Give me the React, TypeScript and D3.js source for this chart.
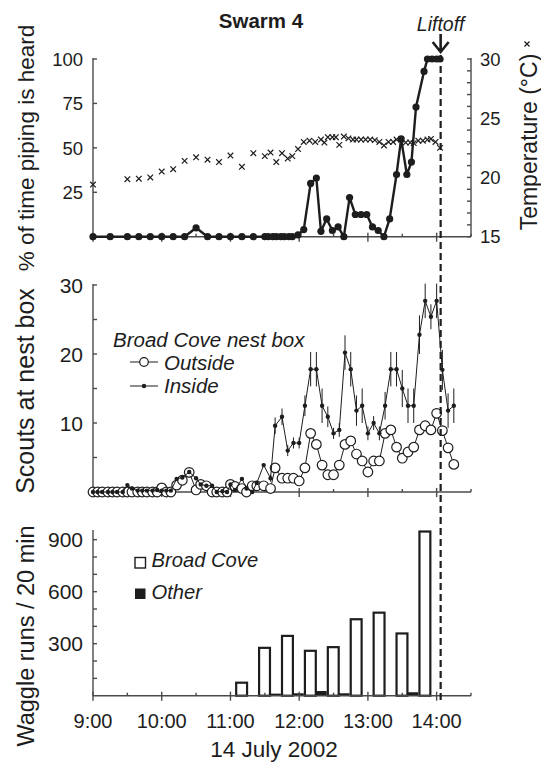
import React, { useEffect, useRef } from 'react';
import * as d3 from 'd3';

// all times are minutes after 9:00
const hourTicks = [0, 60, 120, 180, 240, 300];
const hourLabels = ['9:00', '10:00', '11:00', '12:00', '13:00', '14:00'];
const halfHourTicks = [30, 90, 150, 210, 270];
const liftoffMin = 303.5;

// top panel: piping
const pipingTimes = [0, 15, 30, 40, 50, 60, 70, 80, 90, 100, 110, 120, 130, 140, 150, 153, 157, 160, 164, 167,
  171, 174, 179, 184, 190, 195, 199, 204, 209, 214, 219, 224, 229, 234, 239, 244, 249, 254, 259, 265,
  269, 274, 278, 282, 289, 292, 296, 300, 303];
const pipingValues = [0, 0, 0, 0, 0, 0, 0, 0, 5, 0, 0, 0, 0, 0, 0, 0, 0, 0, 0, 0,
  0, 0, 1, 4, 30, 33, 3, 10, 3.5, 5.5, 0, 22, 12.5, 12.5, 12.5, 5.5, 3.5, 0, 10, 35,
  55, 35, 42, 73, 93, 100, 100, 100, 100];

// top panel: temperature (x markers)
const tempTimes = [0, 30, 40, 50, 60, 70, 80, 90, 100, 110, 120, 130, 140, 150, 155, 160, 165, 170, 174, 179,
  184, 189, 194, 199, 202, 205, 209, 212, 215, 219, 223, 227, 230, 234, 238, 242, 246, 250, 254, 258,
  262, 265, 269, 273, 277, 280, 284, 288, 292, 295, 299, 303];
const tempValues = [19.4, 19.85, 19.9, 20.0, 20.5, 20.7, 21.4, 21.7, 21.5, 21.3, 21.85, 20.9, 22.05, 21.8, 22.1, 21.3, 22.05, 21.6, 21.8, 22.4,
  23.0, 23.1, 23.0, 23.2, 22.95, 23.4, 23.4, 23.4, 22.75, 23.45, 23.3, 23.2, 23.2, 23.2, 23.2, 23.2, 23.15, 23.0, 22.7, 23.0,
  23.0, 23.2, 23.2, 22.95, 22.95, 22.9, 23.1, 23.1, 23.2, 23.25, 23.0, 22.5];

// middle panel: scouts
const scoutTimes = [0, 4, 8, 13, 17, 21, 26, 30, 34, 39, 43, 47, 52, 56, 60, 64, 68, 73, 78, 84,
  90, 94, 99, 104, 108, 113, 117, 120, 124, 130, 134, 139, 143, 149, 155, 159, 165, 170, 175, 180,
  185, 190, 195, 200, 205, 210, 215, 220, 225, 230, 235, 240, 245, 250, 255, 260, 265, 270, 275, 280,
  285, 290, 295, 300, 305, 310, 315];
const outsideValues = [0, 0, 0, 0, 0, 0, 0, 0, 0, 0, 0, 0, 0, 0, 0.6, 0, 0, 1.0, 1.7, 2.85,
  0.3, 1.1, 0.9, 0, 0, 0, 0, 1.1, 0.8, 0.5, 0, 0.9, 0.9, 0.9, 0.5, 3.5, 2.0, 2.0, 2.0, 1.6,
  3.5, 8.5, 6.9, 3.9, 2.5, 2.5, 3.9, 6.9, 7.4, 5.5, 4.5, 2.9, 4.5, 4.5, 8.5, 9.0, 6.5, 4.9, 5.8, 6.5,
  9.0, 9.6, 9.0, 11.4, 8.9, 6.4, 4.0];
const insideValues = [0, 0, 0, 0, 0, 0, 0, 1.0, 0.5, 0.2, 0.2, 0.2, 0.2, 0.3, 0.2, 0.2, 0.2, 1.9, 2.1, 2.9,
  2.0, 1.1, 0.9, 0.9, 0, 0.1, 0, 1.1, 0.3, 1.9, 0.5, 0, 1.3, 3.9, 2.0, 9.6, 10.9, 6.0, 7.1, 7.1,
  12.5, 17.8, 17.8, 12.5, 10.9, 8.5, 9.0, 20.2, 17.8, 11.8, 12.5, 8.5, 10.0, 8.5, 12.5, 17.8, 17.8, 15.0, 12.5, 12.5,
  22.8, 27.7, 25.4, 27.7, 17.7, 11.8, 12.5];
const insideErr = [0, 0, 0, 0, 0, 0, 0, 0, 0, 0, 0, 0, 0, 0, 0, 0, 0, 0, 0, 0,
  0, 0, 0, 0, 0, 0, 0, 0, 0, 0, 0, 0, 0, 0, 0.5, 1.2, 1.2, 0.8, 0.8, 0.8,
  1.5, 2.5, 2.5, 2.5, 1.5, 0.8, 1.0, 2.5, 2.5, 2.2, 2.5, 1.0, 1.0, 1.0, 2.0, 2.5, 2.5, 2.7, 2.5, 2.5,
  2.8, 2.5, 1.8, 2.5, 2.9, 2.5, 2.5];

// bottom panel: waggle runs per 20-min block (block start)
const blockStarts = [120, 140, 160, 180, 200, 220, 240, 260, 280];
const broadCoveRuns = [75, 276, 345, 259, 280, 441, 479, 359, 947];
const otherRuns = [0, 12, 14, 27, 14, 0, 0, 20, 0];

const FONT = '"Liberation Sans", Arial, Helvetica, sans-serif';
const INK = '#1d1d1d';
const AXIS = '#4a4a4a';

const App: React.FC = () => {
  const svgRef = useRef<SVGSVGElement>(null);

  useEffect(() => {
    const svg = d3.select(svgRef.current);
    svg.selectAll('*').remove();

    const x = d3.scaleLinear().domain([0, 330]).range([93, 471]);

    const text = (tx: number, ty: number, s: string, size: number, opts: any = {}) => {
      const t = svg.append('text')
        .attr('x', tx).attr('y', ty)
        .attr('font-family', FONT)
        .attr('font-size', size)
        .attr('fill', INK)
        .attr('text-anchor', opts.anchor || 'start')
        .text(s);
      if (opts.italic) t.attr('font-style', 'italic');
      if (opts.bold) t.attr('font-weight', 'bold');
      if (opts.rotate) t.attr('transform', `rotate(-90,${tx},${ty})`);
      return t;
    };

    const xAxis = (y0: number) => {
      const g = svg.append('g').attr('stroke', AXIS).attr('stroke-width', 1.4);
      g.append('line').attr('x1', x(0)).attr('x2', x(330)).attr('y1', y0).attr('y2', y0);
      g.selectAll('.maj').data(hourTicks).enter().append('line')
        .attr('x1', d => x(d)).attr('x2', d => x(d)).attr('y1', y0 - 4).attr('y2', y0 + 5);
      g.selectAll('.min').data(halfHourTicks.concat([330])).enter().append('line')
        .attr('x1', d => x(d)).attr('x2', d => x(d)).attr('y1', y0 - 3).attr('y2', y0);
    };

    const yAxisLeft = (scale: d3.ScaleLinear<number, number>, ticks: number[], labels: number[], size: number) => {
      const [lo, hi] = scale.domain();
      const g = svg.append('g').attr('stroke', AXIS).attr('stroke-width', 1.4);
      g.append('line').attr('x1', x(0)).attr('x2', x(0)).attr('y1', scale(lo)).attr('y2', scale(hi) - 1);
      g.selectAll('line.t').data(ticks).enter().append('line')
        .attr('x1', x(0)).attr('x2', x(0) + 4).attr('y1', d => scale(d)).attr('y2', d => scale(d));
      labels.forEach(v => text(83, scale(v) + size * 0.36, String(v), size, { anchor: 'end' }));
    };

    // ---------- top panel ----------
    const yPip = d3.scaleLinear().domain([0, 100]).range([236.7, 59]);
    const yTemp = d3.scaleLinear().domain([15, 30]).range([236.7, 59]);

    yAxisLeft(yPip, [25, 50, 75, 100], [25, 50, 75, 100], 18.5);
    xAxis(yPip(0));
    const rg = svg.append('g').attr('stroke', AXIS).attr('stroke-width', 1.4);
    rg.append('line').attr('x1', x(330)).attr('x2', x(330)).attr('y1', yTemp(15)).attr('y2', yTemp(30) - 1);
    rg.selectAll('line.t').data(d3.range(15, 31)).enter().append('line')
      .attr('x1', x(330) - 4).attr('x2', x(330)).attr('y1', d => yTemp(d)).attr('y2', d => yTemp(d));
    [15, 20, 25, 30].forEach(v => text(480, yTemp(v) + 6.7, String(v), 18.5));

    // temperature markers
    svg.append('g').attr('stroke', INK).attr('stroke-width', 1.2)
      .selectAll('path').data(tempTimes).enter().append('path')
      .attr('transform', (d, i) => `translate(${x(d)},${yTemp(tempValues[i])})`)
      .attr('d', 'M-2.8,-2.8L2.8,2.8M-2.8,2.8L2.8,-2.8');

    const pipData = pipingTimes.map((t, i) => [t, pipingValues[i]] as [number, number]);
    svg.append('path')
      .attr('d', d3.line<[number, number]>().x(d => x(d[0])).y(d => yPip(d[1]))(pipData))
      .attr('fill', 'none').attr('stroke', INK).attr('stroke-width', 2.4).attr('stroke-linejoin', 'round');
    svg.append('g').selectAll('circle').data(pipData).enter().append('circle')
      .attr('cx', d => x(d[0])).attr('cy', d => yPip(d[1])).attr('r', 3.6).attr('fill', INK);

    // ---------- middle panel ----------
    const yScout = d3.scaleLinear().domain([0, 30]).range([492, 285]);
    yAxisLeft(yScout, [5, 10, 15, 20, 25, 30], [10, 20, 30], 21);
    xAxis(yScout(0));

    const outData = scoutTimes.map((t, i) => [t, outsideValues[i]] as [number, number]);
    const inData = scoutTimes.map((t, i) => [t, insideValues[i], insideErr[i]] as [number, number, number]);
    const sLine = d3.line<any>().x(d => x(d[0])).y(d => yScout(d[1]));

    svg.append('path').attr('d', sLine(outData)).attr('fill', 'none').attr('stroke', INK).attr('stroke-width', 1);
    svg.append('g').selectAll('circle').data(outData).enter().append('circle')
      .attr('cx', d => x(d[0])).attr('cy', d => yScout(d[1])).attr('r', 4.8)
      .attr('fill', '#fff').attr('stroke', INK).attr('stroke-width', 1.2);

    svg.append('path').attr('d', sLine(inData)).attr('fill', 'none').attr('stroke', INK).attr('stroke-width', 1);
    svg.append('g').attr('stroke', INK).attr('stroke-width', 1)
      .selectAll('line').data(inData.filter(d => d[2] > 0)).enter().append('line')
      .attr('x1', d => x(d[0])).attr('x2', d => x(d[0]))
      .attr('y1', d => yScout(d[1] - d[2])).attr('y2', d => yScout(d[1] + d[2]));
    svg.append('g').selectAll('circle').data(inData).enter().append('circle')
      .attr('cx', d => x(d[0])).attr('cy', d => yScout(d[1])).attr('r', 2.2).attr('fill', INK);

    // middle legend
    text(113, 347, 'Broad Cove nest box', 20.5, { italic: true });
    svg.append('line').attr('x1', 130).attr('x2', 158).attr('y1', 362).attr('y2', 362).attr('stroke', INK);
    svg.append('circle').attr('cx', 144).attr('cy', 362).attr('r', 4.3).attr('fill', '#fff').attr('stroke', INK).attr('stroke-width', 1.2);
    text(164, 370, 'Outside', 20.5, { italic: true });
    svg.append('line').attr('x1', 130).attr('x2', 158).attr('y1', 386).attr('y2', 386).attr('stroke', INK);
    svg.append('circle').attr('cx', 144).attr('cy', 386).attr('r', 2.2).attr('fill', INK);
    text(164, 393, 'Inside', 20.5, { italic: true });

    // ---------- bottom panel ----------
    const yWag = d3.scaleLinear().domain([0, 950]).range([695.7, 531]);
    yAxisLeft(yWag, d3.range(100, 1000, 100), [300, 600, 900], 21);

    const sub = d3.scaleBand<string>().domain(['bc', 'other']).range([0, x(19) - x(0)]);
    const bars = svg.append('g');
    bars.selectAll('rect.bc').data(blockStarts).enter().append('rect')
      .attr('x', d => x(d + 5)).attr('width', sub.bandwidth())
      .attr('y', (d, i) => yWag(broadCoveRuns[i])).attr('height', (d, i) => yWag(0) - yWag(broadCoveRuns[i]))
      .attr('fill', '#fff').attr('stroke', INK).attr('stroke-width', 2.2);
    bars.selectAll('rect.ot').data(blockStarts).enter().append('rect')
      .attr('x', d => x(d + 5) + (sub('other') || 0)).attr('width', sub.bandwidth())
      .attr('y', (d, i) => yWag(otherRuns[i])).attr('height', (d, i) => yWag(0) - yWag(otherRuns[i]))
      .attr('fill', INK);
    xAxis(yWag(0));
    hourTicks.forEach((t, i) => text(x(t), 728, hourLabels[i], 20, { anchor: 'middle' }));
    text(274, 757, '14 July 2002', 22.5, { anchor: 'middle' });

    // bottom legend
    svg.append('rect').attr('x', 135).attr('y', 557.5).attr('width', 10.5).attr('height', 10.5)
      .attr('fill', '#fff').attr('stroke', INK).attr('stroke-width', 1.4);
    text(151.5, 567, 'Broad Cove', 20.2, { italic: true });
    svg.append('rect').attr('x', 135).attr('y', 588.5).attr('width', 10.5).attr('height', 10.5).attr('fill', INK);
    text(151.5, 599, 'Other', 20.2, { italic: true });

    // ---------- titles ----------
    text(261, 28, 'Swarm 4', 20.5, { anchor: 'middle', bold: true });
    text(34, 148, '% of time piping is heard', 22.5, { anchor: 'middle', rotate: true });
    text(34, 391, 'Scouts at nest box', 25, { anchor: 'middle', rotate: true });
    text(34, 636, 'Waggle runs / 20 min', 23.5, { anchor: 'middle', rotate: true });
    text(537, 142, 'Temperature (°C)', 23, { anchor: 'middle', rotate: true });
    svg.append('path').attr('d', 'M524.5,41.5L529.5,46.5M524.5,46.5L529.5,41.5').attr('stroke', INK).attr('stroke-width', 1.2);

    // liftoff marker
    text(x(liftoffMin), 31, 'Liftoff', 19.5, { anchor: 'middle', italic: true });
    svg.append('path')
      .attr('d', `M${x(liftoffMin)},34L${x(liftoffMin)},50M${x(liftoffMin) - 8},42L${x(liftoffMin)},52L${x(liftoffMin) + 8},42`)
      .attr('fill', 'none').attr('stroke', INK).attr('stroke-width', 2.6);
    svg.append('line')
      .attr('x1', x(liftoffMin)).attr('x2', x(liftoffMin)).attr('y1', 55).attr('y2', 702)
      .attr('stroke', INK).attr('stroke-width', 2.2).attr('stroke-dasharray', '7,4');
  }, []);

  return (
    <svg ref={svgRef} width={541} height={763}
      style={{ position: 'absolute', left: 0, top: 0, background: '#fff' }} />
  );
};

export default App;
